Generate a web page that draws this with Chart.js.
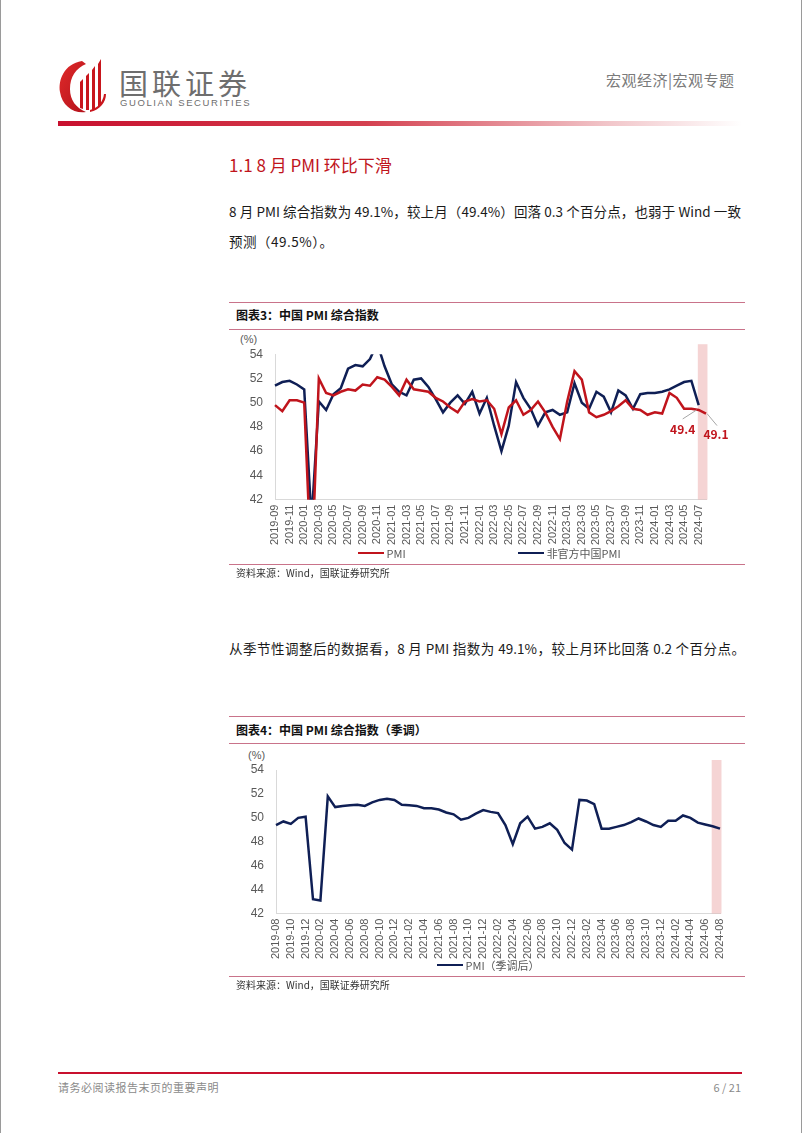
<!DOCTYPE html>
<html>
<head>
<meta charset="utf-8">
<script src="https://cdn.jsdelivr.net/npm/chart.js@4.4.1/dist/chart.umd.min.js"></script>
<style>
  body { margin: 0; width: 802px; height: 1133px; position: relative; background: #fff; overflow: hidden;
         font-family: "Noto Sans CJK SC", "Noto Sans", sans-serif; }
  .abs { position: absolute; white-space: nowrap; }
  .rule { position: absolute; left: 229px; width: 516px; height: 1px; background: #c9738a; }
  .ctitle { position: absolute; left: 236px; font-size: 12px; font-weight: bold; color: #111; line-height: 14px; }
  .src { position: absolute; left: 236px; font-size: 10px; color: #333; line-height: 12px; }
  .body { position: absolute; left: 229px; width: 512px; font-size: 13.5px; color: #1a1a1a; line-height: 18px;
          text-align: justify; text-align-last: justify; }
  .pct { position: absolute; font-size: 11px; color: #595959; font-family: "Liberation Sans", sans-serif; line-height: 12px; }
  .legend { position: absolute; display: flex; align-items: center; font-size: 11px; color: #595959; line-height: 12px; }
  .legend span.s { display: inline-block; width: 26px; height: 2px; margin-right: 3px; }
  canvas { position: absolute; }
</style>
</head>
<body>
<!-- page edges -->
<div class="abs" style="left:0;top:0;width:1px;height:1133px;background:#9a9a9a"></div>
<div class="abs" style="left:801px;top:0;width:1px;height:1133px;background:#9a9a9a"></div>

<!-- header -->
<svg class="abs" style="left:56px;top:56px" width="56" height="60" viewBox="0 0 56 60">
  <defs>
    <linearGradient id="lg" x1="0" y1="0" x2="1" y2="1">
      <stop offset="0" stop-color="#e02a2a"/><stop offset="1" stop-color="#b3121b"/>
    </linearGradient>
  </defs>
  <path d="M26 5 C8 8 2 24 4 36 C6 50 18 58 30 56 C20 52 14 44 14 33 C14 21 20 12 30 8 Z" fill="url(#lg)"/>
  <path d="M24 26 L24 52 L27 53 L27 23 Z" fill="#c8161d"/>
  <path d="M30 20 L30 54 L33 54 L33 17 Z" fill="#c8161d"/>
  <path d="M36 14 L36 54 L39 53 L39 10 Z" fill="#c8161d"/>
  <path d="M42 8 L42 51 L45 48 L45 3 Z" fill="#c8161d"/>
  <path d="M34 56 C44 54 50 46 50 38 L48 38 C47 46 42 52 34 54 Z" fill="#c8161d"/>
</svg>
<div class="abs" style="left:119px;top:65px;font-size:29px;line-height:34px;color:#6e6e6e;font-weight:400;letter-spacing:4px">国联证券</div>
<div class="abs" style="left:120px;top:97px;font-size:9.5px;line-height:11px;color:#6e6e6e;font-family:'Liberation Sans',sans-serif;letter-spacing:1.6px">GUOLIAN SECURITIES</div>
<div class="abs" style="left:606px;top:71px;font-size:15px;line-height:18px;color:#7a7a7a;letter-spacing:0.5px">宏观经济|宏观专题</div>
<div class="abs" style="left:58px;top:121px;width:684px;height:5px;background:linear-gradient(to right,#c8102e 0%,#d4404f 45%,#f1c4c8 80%,#ffffff 100%)"></div>

<!-- section heading and text -->
<div class="abs" style="left:229px;top:154px;font-size:17px;line-height:22px;color:#c0141c">1.1 8 月 PMI 环比下滑</div>
<div class="body" style="top:202px">8 月 PMI 综合指数为 49.1%，较上月（49.4%）回落 0.3 个百分点，也弱于 Wind 一致</div>
<div class="abs" style="left:229px;top:232px;font-size:13.5px;line-height:18px;color:#1a1a1a;letter-spacing:0.5px">预测（49.5%）。</div>

<!-- chart 3 frame -->
<div class="rule" style="top:302px"></div>
<div class="ctitle" style="top:308px">图表3：中国 PMI 综合指数</div>
<div class="rule" style="top:329px"></div>
<div class="pct" style="left:240px;top:333px">(%)</div>
<canvas id="c1" width="516" height="221" style="left:229px;top:335px"></canvas>
<div class="legend" id="lg1" style="top:547px"></div>
<div class="rule" style="top:564px"></div>
<div class="src" style="top:567px">资料来源：Wind，国联证券研究所</div>

<div class="body" style="top:639px;width:516px">从季节性调整后的数据看，8 月 PMI 指数为 49.1%，较上月环比回落 0.2 个百分点。</div>

<!-- chart 4 frame -->
<div class="rule" style="top:716px"></div>
<div class="ctitle" style="top:723px">图表4：中国 PMI 综合指数（季调）</div>
<div class="rule" style="top:743px"></div>
<div class="pct" style="left:248px;top:749px">(%)</div>
<canvas id="c2" width="516" height="222" style="left:229px;top:748px"></canvas>
<div class="legend" id="lg2" style="top:959px"></div>
<div class="rule" style="top:976px"></div>
<div class="src" style="top:979px">资料来源：Wind，国联证券研究所</div>

<!-- footer -->
<div class="abs" style="left:58px;top:1072px;width:684px;height:2px;background:#c8102e"></div>
<div class="abs" style="left:58px;top:1080px;font-size:11px;line-height:14px;color:#8a8a8a;letter-spacing:0.5px">请务必阅读报告末页的重要声明</div>
<div class="abs" style="left:700px;width:41px;top:1080px;font-size:11px;line-height:14px;color:#8a8a8a;text-align:right">6 / 21</div>

<script>
// ---- data ----
var months1 = ['2019-09','2019-10','2019-11','2019-12',
  '2020-01','2020-02','2020-03','2020-04','2020-05','2020-06','2020-07','2020-08','2020-09','2020-10','2020-11','2020-12',
  '2021-01','2021-02','2021-03','2021-04','2021-05','2021-06','2021-07','2021-08','2021-09','2021-10','2021-11','2021-12',
  '2022-01','2022-02','2022-03','2022-04','2022-05','2022-06','2022-07','2022-08','2022-09','2022-10','2022-11','2022-12',
  '2023-01','2023-02','2023-03','2023-04','2023-05','2023-06','2023-07','2023-08','2023-09','2023-10','2023-11','2023-12',
  '2024-01','2024-02','2024-03','2024-04','2024-05','2024-06','2024-07','2024-08'];

var pmi = [49.8,49.3,50.2,50.2,
  50.0,35.7,52.0,50.8,50.6,50.9,51.1,51.0,51.5,51.4,52.1,51.9,
  51.3,50.6,51.9,51.1,51.0,50.9,50.4,50.1,49.6,49.2,50.1,50.3,
  50.1,50.2,49.5,47.4,49.6,50.2,49.0,49.4,50.1,49.2,48.0,47.0,
  50.1,52.6,51.9,49.2,48.8,49.0,49.3,49.7,50.2,49.5,49.4,49.0,
  49.2,49.1,50.8,50.4,49.5,49.5,49.4,49.1];

var caixinPmi = [51.4,51.7,51.8,51.5,
  51.1,40.3,50.1,49.4,50.7,51.2,52.8,53.1,53.0,53.6,54.9,53.0,
  51.5,50.9,50.6,51.9,52.0,51.3,50.3,49.2,50.0,50.6,49.9,50.9,
  49.1,50.4,48.1,46.0,48.1,51.7,50.4,49.5,48.1,49.2,49.4,49.0,
  49.2,51.6,50.0,49.5,50.9,50.5,49.2,51.0,50.6,49.5,50.7,50.8,
  50.8,50.9,51.1,51.4,51.7,51.8,49.8];

var months2 = ['2019-08','2019-09','2019-10','2019-11','2019-12',
  '2020-01','2020-02','2020-03','2020-04','2020-05','2020-06','2020-07','2020-08','2020-09','2020-10','2020-11','2020-12',
  '2021-01','2021-02','2021-03','2021-04','2021-05','2021-06','2021-07','2021-08','2021-09','2021-10','2021-11','2021-12',
  '2022-01','2022-02','2022-03','2022-04','2022-05','2022-06','2022-07','2022-08','2022-09','2022-10','2022-11','2022-12',
  '2023-01','2023-02','2023-03','2023-04','2023-05','2023-06','2023-07','2023-08','2023-09','2023-10','2023-11','2023-12',
  '2024-01','2024-02','2024-03','2024-04','2024-05','2024-06','2024-07','2024-08'];

var pmiSA = [49.4,49.7,49.5,50.0,50.1,
  43.2,43.1,51.8,50.9,51.0,51.05,51.1,51.0,51.3,51.5,51.6,51.5,
  51.1,51.05,51.0,50.8,50.8,50.7,50.45,50.3,49.85,50.0,50.35,50.65,
  50.5,50.4,49.4,47.8,49.55,50.1,49.1,49.25,49.55,49.0,47.9,47.35,
  51.5,51.45,51.15,49.1,49.1,49.25,49.4,49.65,49.95,49.7,49.4,49.25,
  49.75,49.75,50.2,50.0,49.6,49.45,49.3,49.1];

var yMin = 42, yMax = 54, yStep = 2;
var RED = '#c0141c', NAVY = '#0f1f55';
var TICK = '#595959', AXIS = '#d9d9d9';
var tickFont = { family: 'Liberation Sans', size: 11 };

// shaded band over the latest month
var bandPlugin = {
  id: 'band',
  beforeDatasetsDraw: function(chart) {
    var x = chart.scales.x, y = chart.scales.y;
    var n = chart.data.labels.length;
    var last = x.getPixelForValue(n - 1);
    var step = last - x.getPixelForValue(n - 2);
    var ctx = chart.ctx;
    ctx.save();
    ctx.fillStyle = 'rgba(236,176,176,0.55)';
    ctx.fillRect(last - 1.12 * step, y.top - 10, 1.32 * step, y.bottom - y.top + 10);
    ctx.restore();
  }
};

// value callouts on the last two PMI points
var calloutPlugin = {
  id: 'callout',
  afterDatasetsDraw: function(chart) {
    var meta = chart.getDatasetMeta(0);
    var ds = chart.data.datasets[0].data;
    var n = ds.length;
    var ctx = chart.ctx;
    var items = [
      { i: n - 2, dx: -16, dy: 19, lx0: -2, ly0: 0, lx1: -16, ly1: 9 },
      { i: n - 1, dx: 10, dy: 21, lx0: 1, ly0: 0, lx1: 11, ly1: 12 }
    ];
    ctx.save();
    items.forEach(function(it) {
      var p = meta.data[it.i];
      ctx.strokeStyle = '#a6a6a6';
      ctx.lineWidth = 1;
      ctx.beginPath();
      ctx.moveTo(p.x + it.lx0, p.y + it.ly0);
      ctx.lineTo(p.x + it.lx1, p.y + it.ly1);
      ctx.stroke();
      ctx.fillStyle = RED;
      ctx.font = 'bold 12px "Noto Sans CJK SC"';
      ctx.textAlign = 'center';
      ctx.textBaseline = 'middle';
      ctx.fillText(ds[it.i].toFixed(1), p.x + it.dx, p.y + it.dy);
    });
    ctx.restore();
  }
};

function makeOptions(labels, yWidth, pad) {
  return {
    responsive: false,
    animation: false,
    layout: { padding: pad },
    elements: { point: { radius: 0 }, line: { borderWidth: 2.5, tension: 0 } },
    scales: {
      x: {
        grid: { display: false, drawTicks: false },
        border: { color: AXIS },
        ticks: {
          autoSkip: false, minRotation: 90, maxRotation: 90, padding: 5,
          color: TICK, font: tickFont,
          callback: function(v, i) { return i % 2 === 0 ? labels[i] : ''; }
        }
      },
      y: {
        min: yMin, max: yMax,
        grid: { display: false, drawTicks: false },
        border: { color: AXIS },
        ticks: { stepSize: yStep, padding: 12, color: TICK, font: { family: 'Liberation Sans', size: 12 } },
        afterFit: function(s) { s.width = yWidth; }
      }
    },
    plugins: { legend: { display: false }, tooltip: { enabled: false } }
  };
}

function makeLegend(id, datasets, gap, center) {
  var el = document.getElementById(id);
  el.style.gap = gap + 'px';
  datasets.forEach(function(d) {
    var item = document.createElement('div');
    item.style.display = 'flex';
    item.style.alignItems = 'center';
    var s = document.createElement('span');
    s.className = 's';
    s.style.background = d.borderColor;
    item.appendChild(s);
    item.appendChild(document.createTextNode(d.label));
    el.appendChild(item);
  });
  el.style.left = (center - el.offsetWidth / 2) + 'px';
}

var ds1 = [
  { label: 'PMI', data: pmi, borderColor: RED, backgroundColor: RED },
  { label: '非官方中国PMI', data: caixinPmi, borderColor: NAVY, backgroundColor: NAVY }
];
new Chart(document.getElementById('c1'), {
  type: 'line',
  data: { labels: months1, datasets: ds1 },
  options: makeOptions(months1, 46, { top: 19, right: 39, bottom: 6, left: 0 }),
  plugins: [bandPlugin, calloutPlugin]
});
makeLegend('lg1', ds1, 112, 489);

var ds2 = [
  { label: 'PMI（季调后）', data: pmiSA, borderColor: NAVY, backgroundColor: NAVY }
];
new Chart(document.getElementById('c2'), {
  type: 'line',
  data: { labels: months2, datasets: ds2 },
  options: makeOptions(months2, 47, { top: 22, right: 25, bottom: 6, left: 0 }),
  plugins: [bandPlugin]
});
makeLegend('lg2', ds2, 0, 488);
</script>
</body>
</html>
